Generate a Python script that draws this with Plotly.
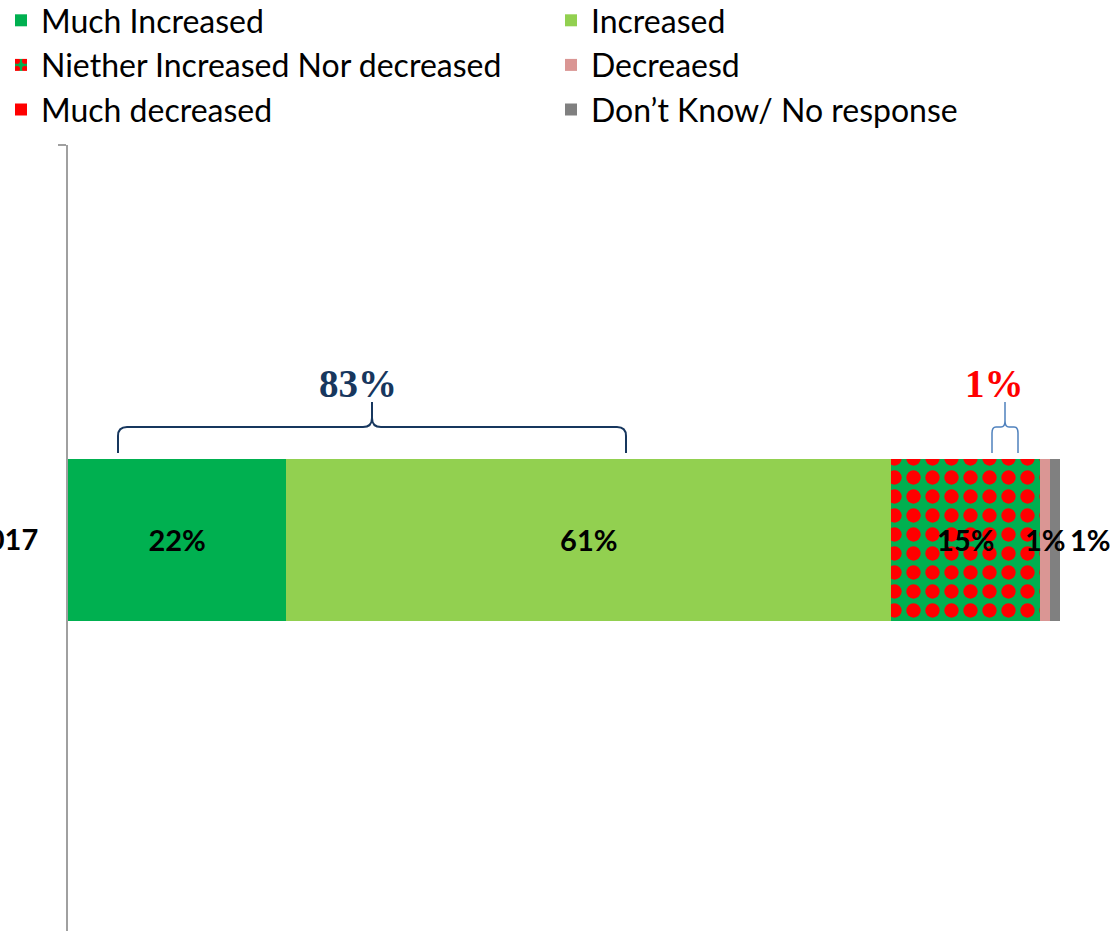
import plotly.graph_objects as go
import numpy as np

# ---- data ----
categories = ["2017"]
series_names = ["Much Increased", "Increased", "Niether Increased Nor decreased",
                "Decreaesd", "Much decreased", "Don\u2019t Know/ No response"]
series_values = [22, 61, 15, 1, 0, 1]
series_colors = ["#00B050", "#92D050", "#00B050", "#DA9694", "#FF0000", "#808080"]
bracket_labels = ["83%", "1%"]

FONT = "Lato"
W, H = 1110, 931
ML, MR, MT, MB = 68, 50, 145, 0
PH = H - MT - MB

def ypix(p):
    return (H - MB - p) / PH

def xpaper(p):
    return (p - ML) / (W - ML - MR)

fig = go.Figure()
for i, (name, val, col) in enumerate(zip(series_names, series_values, series_colors)):
    marker = dict(color=col, line=dict(width=0))
    if i == 2:
        marker["pattern"] = dict(shape=".", fgcolor="#FF0000", bgcolor="#00B050",
                                 size=19, solidity=0.45, fillmode="replace")
    big = val >= 5
    fig.add_trace(go.Bar(
        y=categories, x=[val], name=name, orientation="h",
        marker=marker,
        text=[f"{val}%"] if big else None,
        textposition="inside" if big else "none",
        insidetextanchor="middle",
        constraintext="none",
        textfont=dict(family=FONT, size=29, color="black", weight="bold"),
        legend="legend" if i % 2 == 0 else "legend2",
        hoverinfo="skip",
    ))

# labels for thin segments
cum = np.cumsum([0] + series_values)
shifts = {3: 0, 5: 35}
for i, s in shifts.items():
    center = (cum[i] + cum[i + 1]) / 2
    fig.add_annotation(x=center, y=0, xref="x", yref="y", text=f"{series_values[i]}%",
                       showarrow=False, xshift=s,
                       font=dict(family=FONT, size=29, color="black", weight="bold"))

# brackets
def brace(x0, xm, x1, yb, yh, yt, dx, dy):
    return (f"M{x0},{yb} L{x0},{yh-dy} Q{x0},{yh} {x0+dx},{yh} L{xm-dx},{yh} "
            f"Q{xm},{yh} {xm},{yh+dy} L{xm},{yt} L{xm},{yh+dy} Q{xm},{yh} {xm+dx},{yh} "
            f"L{x1-dx},{yh} Q{x1},{yh} {x1},{yh-dy} L{x1},{yb}")

sx = 100 / (W - ML - MR)
def xd(p):
    return (p - ML) * sx

fig.add_shape(type="path", xref="x", yref="paper",
              path=brace(xd(118), xd(372), xd(626), ypix(453), ypix(427), ypix(402), 9 * sx, 9 / PH),
              line=dict(color="#17375E", width=2))
fig.add_shape(type="path", xref="x", yref="paper",
              path=brace(xd(992), xd(1005), xd(1018), ypix(453), ypix(427), ypix(402), 4 * sx, 6 / PH),
              line=dict(color="#4F81BD", width=1.5))

fig.add_annotation(x=xd(358), y=ypix(360), xref="x", yref="paper", text=f"<b>{bracket_labels[0]}</b>",
                   showarrow=False, font=dict(family="Liberation Serif", size=39, color="#17375E"))
fig.add_annotation(x=xd(994), y=ypix(360), xref="x", yref="paper", text=f"<b>{bracket_labels[1]}</b>",
                   showarrow=False, font=dict(family="Liberation Serif", size=39, color="#FF0000"))

legend_common = dict(orientation="v", xanchor="left", yanchor="top", traceorder="normal",
                     font=dict(family=FONT, size=32, color="black"),
                     bgcolor="rgba(0,0,0,0)", borderwidth=0)

fig.update_layout(
    width=W, height=H,
    margin=dict(l=ML, r=MR, t=MT, b=MB, autoexpand=False),
    barmode="stack", bargap=0.795,
    plot_bgcolor="white", paper_bgcolor="white",
    showlegend=True,
    legend=dict(x=xpaper(1), y=ypix(-7), **legend_common),
    legend2=dict(x=xpaper(551), y=ypix(-7), **legend_common),
    xaxis=dict(range=[0, 100], visible=False, fixedrange=True),
    yaxis=dict(type="category", range=[-0.495, 0.5], showline=True, linecolor="#A0A0A0", linewidth=2,
               ticks="outside", tickson="boundaries", ticklen=8, tickcolor="#A0A0A0", tickwidth=2,
               ticklabelstandoff=22, automargin=False, showgrid=False, zeroline=False,
               tickfont=dict(family=FONT, size=29, color="black", weight="bold")),
)

fig.write_html("out.html", config={"displayModeBar": False},
               post_script="document.body.style.margin='0';")
